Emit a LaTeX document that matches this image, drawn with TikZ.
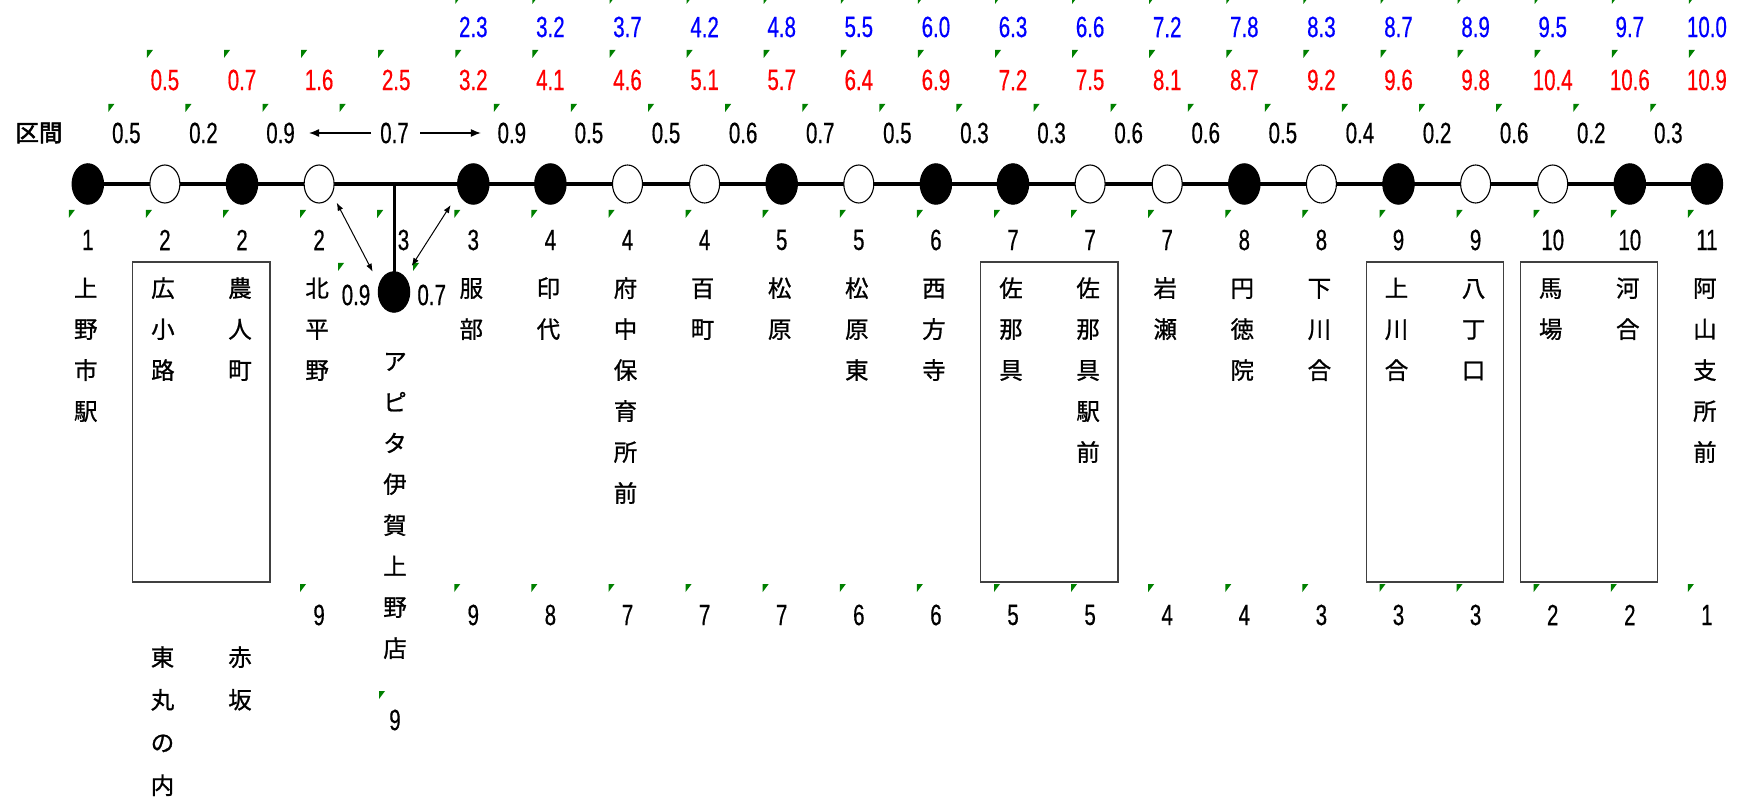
\documentclass[tikz,border=0pt]{standalone}
\usepackage{fontspec}
\usetikzlibrary{arrows.meta,backgrounds,shapes.geometric}
\newfontfamily\jpf[FakeBold=0.9]{Noto Sans CJK JP}
\newfontfamily\jpbf[FakeBold=2.2]{Noto Sans CJK JP}
\newfontfamily\numf[FakeStretch=0.7,FakeBold=0.5]{Liberation Sans}
\definecolor{xlgreen}{RGB}{0,128,0}
\newcommand\tatebox[2][41pt]{\vtop{\baselineskip=#1\relax\lineskiplimit=-1000pt\halign{\hfil##\hfil\cr#2\crcr}}}
\tikzset{
  num/.style={font=\numf\fontsize{29.3pt}{30pt}\selectfont, inner sep=0pt},
  rednum/.style={num,text=red},
  bluenum/.style={num,text=blue},
  jp/.style={font=\jpf\fontsize{23.5pt}{30pt}\selectfont, inner sep=0pt, anchor=base},
  wst/.style={ellipse, draw=black, line width=1.1pt, fill=white, minimum width=30pt, minimum height=38pt, inner sep=0pt},
  bst/.style={ellipse, draw=black, line width=1pt, fill=black, minimum width=31.5pt, minimum height=40.5pt, inner sep=0pt},
  grp/.style={draw=black!75, line width=1.3pt},
  errtri/.style={fill=xlgreen},
  harr/.style={line width=1.2pt, -{Latex[length=10pt,width=8pt]}},
  darr/.style={line width=1pt, {Latex[length=8pt,width=6pt]}-{Latex[length=8pt,width=6pt]}},
}
\begin{document}
\begin{tikzpicture}[x=1pt,y=-1pt]
\useasboundingbox (0,0) rectangle (1742,799);
% ---- stations on the line
\foreach \i/\t in {0/bst,1/wst,2/bst,3/wst,5/bst,6/bst,7/wst,8/wst,9/bst,10/wst,11/bst,12/bst,13/wst,14/wst,15/bst,16/wst,17/bst,18/wst,19/wst,20/bst,21/bst}
  \node[\t] (s\i) at ({87.8+77.1*\i},184) {};
\node[bst] (s4) at (394,292) {};
\begin{scope}[on background layer]
  \draw[line width=3.6pt] (s0.center) -- (s21.center);
  \draw[line width=3pt] (s4.center) -- (s4.center |- s0.center);
\end{scope}
% ---- label column
\node[font=\jpbf\fontsize{23.5pt}{30pt}\selectfont, inner sep=0pt] (kukan) at (39,133) {区間};
% ---- blue row
\foreach \v [count=\k from 5] in {2.3,3.2,3.7,4.2,4.8,5.5,6.0,6.3,6.6,7.2,7.8,8.3,8.7,8.9,9.5,9.7,10.0}{
  \node[bluenum] (b\k) at ({87.8+77.1*\k},27) {\v};
  \fill[errtri] ({87.8+77.1*\k-18},-4) -- ++(6,0) -- ++(-6,8) -- cycle;
}
% ---- red row
\foreach \v [count=\k from 1] in {0.5,0.7,1.6,2.5,3.2,4.1,4.6,5.1,5.7,6.4,6.9,7.2,7.5,8.1,8.7,9.2,9.6,9.8,10.4,10.6,10.9}{
  \node[rednum] (r\k) at ({87.8+77.1*\k},80) {\v};
  \fill[errtri] ({87.8+77.1*\k-18},50) -- ++(6,0) -- ++(-6,8) -- cycle;
}
% ---- interval row
\foreach \i/\v in {0/0.5,1/0.2,2/0.9,5/0.9,6/0.5,7/0.5,8/0.6,9/0.7,10/0.5,11/0.3,12/0.3,13/0.6,14/0.6,15/0.5,16/0.4,17/0.2,18/0.6,19/0.2,20/0.3}{
  \node[num] (iv\i) at ({87.8+77.1*(\i+0.5)},133) {\v};
  \fill[errtri] ({87.8+77.1*(\i+0.5)-18},104) -- ++(6,0) -- ++(-6,8) -- cycle;
}
\fill[errtri] ({87.8+77.1*3.5-18},104) -- ++(6,0) -- ++(-6,8) -- cycle;
\node[num] (l07) at (394.5,133) {0.7};
\draw[harr] ([xshift=-23.5]l07.center) -- ([xshift=28.5]iv2.center);
\draw[harr] ([xshift=25.5]l07.center) -- ([xshift=-31]iv5.center);
% ---- stop count row
\foreach \i/\v in {0/1,1/2,2/2,3/2,5/3,6/4,7/4,8/4,9/5,10/5,11/6,12/7,13/7,14/7,15/8,16/8,17/9,18/9,19/10,20/10,21/11}
  \node[num] (c\i) at ({87.8+77.1*\i},240) {\v};
\node[num] (c4) at (403.5,240) {3};
\foreach \i in {0,...,21}
  \fill[errtri] ({87.8+77.1*\i-19},210) -- ++(6,0) -- ++(-6,8) -- cycle;
% ---- branch labels and arrows
\node[num] (ap09) at (356,295) {0.9};
\node[num] (ap07) at (431.7,295) {0.7};
\fill[errtri] (338,263) -- ++(6,0) -- ++(-6,8) -- cycle;
\fill[errtri] (413,263) -- ++(6,0) -- ++(-6,8) -- cycle;
\draw[darr] ([shift={(17.6,18.7)}]s3.center) -- ([shift={(-21.3,-20.3)}]s4.center);
\draw[darr] ([shift={(-22.6,21)}]s5.center) -- ([shift={(17.7,-26)}]s4.center);
% ---- group boxes
\draw[grp] (132.7,262) rectangle (270,582);
\draw[grp] (980.8,262) rectangle (1118.1,582);
\draw[grp] (1366.3,262) rectangle (1503.6,582);
\draw[grp] (1520.5,262) rectangle (1657.8,582);
% ---- station names
\node[jp] (n0) at (85.8,297) {\tatebox{上\cr 野\cr 市\cr 駅}};
\node[jp] (n1) at (162.9,297) {\tatebox{広\cr 小\cr 路}};
\node[jp] (n2) at (240,297) {\tatebox{農\cr 人\cr 町}};
\node[jp] (n3) at (317.1,297) {\tatebox{北\cr 平\cr 野}};
\node[jp] (n4) at (395,370) {\tatebox{ア\cr ピ\cr タ\cr 伊\cr 賀\cr 上\cr 野\cr 店}};
\node[jp] (n5) at (471.3,297) {\tatebox{服\cr 部}};
\node[jp] (n6) at (548.4,297) {\tatebox{印\cr 代}};
\node[jp] (n7) at (625.5,297) {\tatebox{府\cr 中\cr 保\cr 育\cr 所\cr 前}};
\node[jp] (n8) at (702.6,297) {\tatebox{百\cr 町}};
\node[jp] (n9) at (779.7,297) {\tatebox{松\cr 原}};
\node[jp] (n10) at (856.8,297) {\tatebox{松\cr 原\cr 東}};
\node[jp] (n11) at (933.9,297) {\tatebox{西\cr 方\cr 寺}};
\node[jp] (n12) at (1011,297) {\tatebox{佐\cr 那\cr 具}};
\node[jp] (n13) at (1088.1,297) {\tatebox{佐\cr 那\cr 具\cr 駅\cr 前}};
\node[jp] (n14) at (1165.2,297) {\tatebox{岩\cr 瀬}};
\node[jp] (n15) at (1242.3,297) {\tatebox{円\cr 徳\cr 院}};
\node[jp] (n16) at (1319.4,297) {\tatebox{下\cr 川\cr 合}};
\node[jp] (n17) at (1396.5,297) {\tatebox{上\cr 川\cr 合}};
\node[jp] (n18) at (1473.6,297) {\tatebox{八\cr 丁\cr 口}};
\node[jp] (n19) at (1550.7,297) {\tatebox{馬\cr 場}};
\node[jp] (n20) at (1627.8,297) {\tatebox{河\cr 合}};
\node[jp] (n21) at (1704.9,297) {\tatebox{阿\cr 山\cr 支\cr 所\cr 前}};
\node[jp] (n1b) at (162.5,666) {\tatebox[42.7pt]{東\cr 丸\cr の\cr 内}};
\node[jp] (n2b) at (240,666) {\tatebox[42.7pt]{赤\cr 坂}};
% ---- bottom row
\foreach \i/\v in {3/9,5/9,6/8,7/7,8/7,9/7,10/6,11/6,12/5,13/5,14/4,15/4,16/3,17/3,18/3,19/2,20/2,21/1}{
  \node[num] (f\i) at ({87.8+77.1*\i},615) {\v};
  \fill[errtri] ({87.8+77.1*\i-19},584) -- ++(6,0) -- ++(-6,8) -- cycle;
}
\node[num] (f4) at (395,720) {9};
\fill[errtri] (379,691) -- ++(6,0) -- ++(-6,8) -- cycle;
\end{tikzpicture}
\end{document}
